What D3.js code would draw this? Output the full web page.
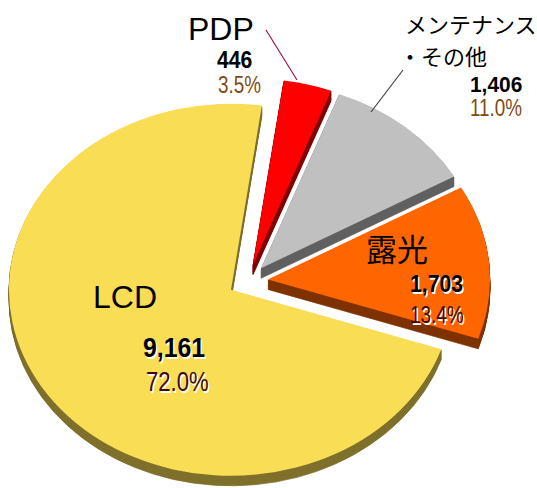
<!DOCTYPE html>
<html lang="ja">
<head>
<meta charset="UTF-8">
<script src="https://cdn.jsdelivr.net/npm/d3@7/dist/d3.min.js"></script>
<title>pie3d</title>
<style>
    body { margin: 0; background: #fff; }
    text.lat { font-family: "Liberation Sans", Arial, sans-serif; }
    text.jp { font-family: "Noto Sans CJK JP", sans-serif; }
</style>
</head>
<body>
<div id="chart"></div>
<script>
    // data
    var categories = ["PDP", "メンテナンス・その他", "露光", "LCD"];
    var values = [446, 1406, 1703, 9161];
    var percents = ["3.5%", "11.0%", "13.4%", "72.0%"];

    var topColors = ["#FF0000", "#C0C0C0", "#FF6600", "#F9DE55"];
    var sideColors = ["#800000", "#616161", "#7F3300", "#7F702C"];

    var width = 537, height = 488;
    var cx = 248, cy = 281;
    var rx = 222, ry = 186;
    var depth = 10;
    var explode = 20;
    var startAngle = 8 * Math.PI / 180;

    var svg = d3.select("#chart").append("svg")
        .attr("width", width)
        .attr("height", height);

    var pie = d3.pie().sort(null)
        .startAngle(startAngle)
        .endAngle(startAngle + 2 * Math.PI);

    var arcs = pie(values);
    var arc = d3.arc().innerRadius(0).outerRadius(rx);

    arcs.forEach(function(a, i) {
        var mid = (a.startAngle + a.endAngle) / 2;
        var ox = explode * Math.sin(mid);
        var oy = -explode * Math.cos(mid);
        var g = svg.append("g");
        // side: stack the slice shape downwards
        for (var k = depth; k >= 1; k--) {
            g.append("path")
                .attr("transform", "translate(" + cx + "," + (cy + k) + ") scale(1," + (ry / rx) + ") translate(" + ox + "," + oy + ")")
                .attr("d", arc(a))
                .attr("fill", sideColors[i])
                .attr("stroke", sideColors[i])
                .attr("stroke-width", 0.8);
        }
        g.append("path")
            .attr("transform", "translate(" + cx + "," + cy + ") scale(1," + (ry / rx) + ") translate(" + ox + "," + oy + ")")
            .attr("d", arc(a))
            .attr("fill", topColors[i]);
    });

    // leader lines
    svg.append("line")
        .attr("x1", 266).attr("y1", 30).attr("x2", 297).attr("y2", 80)
        .attr("stroke", "#A0193C").attr("stroke-width", 1.2);
    svg.append("line")
        .attr("x1", 403).attr("y1", 70).attr("x2", 371).attr("y2", 112)
        .attr("stroke", "#404040").attr("stroke-width", 1.2);

    function label(x, y, str, cls, size, opts) {
        opts = opts || {};
        var sx = opts.sx || 1;
        if (opts.shadow) {
            svg.append("text")
                .attr("class", cls)
                .attr("transform", "translate(" + (x + 1.5) + "," + (y + 1.5) + ") scale(" + sx + ",1)")
                .attr("font-size", size)
                .attr("font-weight", opts.bold ? "bold" : "normal")
                .attr("fill", "#fff")
                .text(str);
        }
        svg.append("text")
            .attr("class", cls)
            .attr("transform", "translate(" + x + "," + y + ") scale(" + sx + ",1)")
            .attr("font-size", size)
            .attr("font-weight", opts.bold ? "bold" : "normal")
            .attr("fill", opts.color || "#000")
            .text(str);
    }

    var fmt = d3.format(",");

    // PDP
    label(188, 40, categories[0], "lat", 32);
    label(217, 68, fmt(values[0]), "lat", 23, {bold: true, sx: 0.92});
    label(218, 93, percents[0], "lat", 23, {sx: 0.82, color: "#7F4A14"});

    // maintenance
    var mt = categories[1].split("・");
    label(405, 33, mt[0], "jp", 22);
    label(399, 65, "・" + mt[1], "jp", 22);
    label(470, 92, fmt(values[1]), "lat", 22, {bold: true, sx: 0.95});
    label(470, 116, percents[1], "lat", 23, {sx: 0.82, color: "#7F4A14"});

    // exposure
    label(366, 261, categories[2], "jp", 31);
    label(410, 292, fmt(values[2]), "lat", 23, {bold: true, sx: 0.92, shadow: true});
    label(410, 323, percents[2], "lat", 23, {sx: 0.82, color: "#3F0A0A", shadow: true});

    // LCD
    label(93, 308, categories[3], "lat", 32);
    label(143, 357, fmt(values[3]), "lat", 27, {bold: true, sx: 0.92, shadow: true});
    label(146, 391, percents[3], "lat", 27, {sx: 0.82, color: "#3F0A0A", shadow: true});
</script>
</body>
</html>
